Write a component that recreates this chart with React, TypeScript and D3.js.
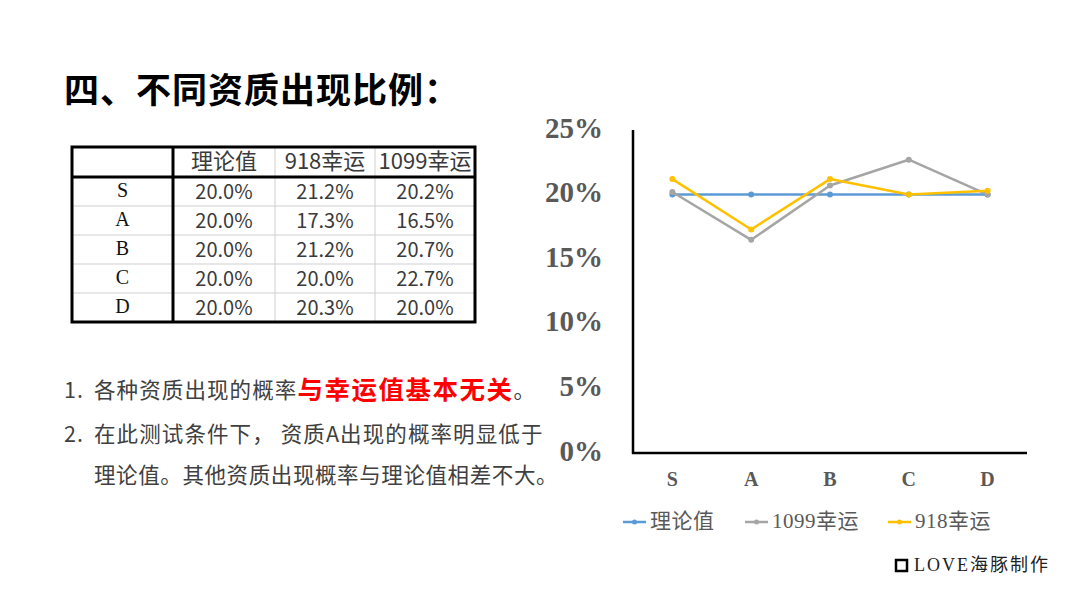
import * as d3 from "d3";

const categories = ["S", "A", "B", "C", "D"];
const theory = [20.0, 20.0, 20.0, 20.0, 20.0];
const lucky918 = [21.2, 17.3, 21.2, 20.0, 20.3];
const lucky1099 = [20.2, 16.5, 20.7, 22.7, 20.0];
const yTicks = [0, 5, 10, 15, 20, 25];
const tableHeaders = ["理论值", "918幸运", "1099幸运"];

const W = 1080;
const H = 608;
const SANS = "'Noto Sans CJK SC', 'Noto Sans', sans-serif";
const SERIF = "'Liberation Serif', 'DejaVu Serif', 'Noto Sans CJK SC', serif";

// chart frame
const AX_LEFT = 633;
const AX_RIGHT = 1027;
const AX_TOP = 130;
const AX_BOTTOM = 453;

const series = [
  { name: "理论值", values: theory, color: "#5B9BD5" },
  { name: "1099幸运", values: lucky1099, color: "#A5A5A5" },
  { name: "918幸运", values: lucky918, color: "#FFC000" },
];

// table frame
const colEdges = [72, 173, 275, 375, 475];
const HEAD_TOP = 147;
const HEAD_BOTTOM = 177;
const ROW_H = 29;

const pct = (v: number) => d3.format(".1f")(v) + "%";

function LineChart() {
  const x = d3.scalePoint<string>().domain(categories).range([AX_LEFT, AX_RIGHT]).padding(0.5);
  const y = d3.scaleLinear().domain([0, 25]).range([AX_BOTTOM, AX_TOP]);
  const line = d3
    .line<number>()
    .x((_, i) => x(categories[i]) ?? 0)
    .y((d) => y(d));

  const legendX = [623, 745, 888];

  return (
    <g>
      {yTicks.map((t) => (
        <text
          key={t}
          x={603}
          y={y(t) + 1}
          textAnchor="end"
          dominantBaseline="middle"
          fontFamily={SERIF}
          fontWeight={700}
          fontSize={29}
          fill="#595959"
        >
          {t}%
        </text>
      ))}
      {categories.map((c) => (
        <text
          key={c}
          x={x(c)}
          y={481}
          textAnchor="middle"
          dominantBaseline="middle"
          fontFamily={SERIF}
          fontWeight={700}
          fontSize={20}
          fill="#595959"
        >
          {c}
        </text>
      ))}
      <line x1={AX_LEFT} x2={AX_LEFT} y1={AX_TOP} y2={AX_BOTTOM + 1} stroke="#000" strokeWidth={2.5} />
      <line x1={AX_LEFT - 1} x2={AX_RIGHT} y1={AX_BOTTOM} y2={AX_BOTTOM} stroke="#000" strokeWidth={2.5} />

      {series.map((s) => (
        <g key={s.name}>
          <path d={line(s.values) ?? ""} fill="none" stroke={s.color} strokeWidth={2.5} strokeLinejoin="round" />
          {s.values.map((v, i) => (
            <circle key={i} cx={x(categories[i])} cy={y(v)} r={3} fill={s.color} />
          ))}
        </g>
      ))}

      {series.map((s, i) => (
        <g key={s.name} transform={`translate(${legendX[i]},522)`}>
          <line x1={0} x2={23} y1={0} y2={0} stroke={s.color} strokeWidth={2.5} />
          <circle cx={11.5} cy={0} r={2.5} fill={s.color} />
          <text
            x={27}
            y={1}
            dominantBaseline="middle"
            fontFamily={SERIF}
            fontSize={21}
            letterSpacing={0.5}
            fill="#595959"
          >
            {s.name}
          </text>
        </g>
      ))}
    </g>
  );
}

function DataTable() {
  const rows = categories.map((c, i) => [theory[i], lucky918[i], lucky1099[i]]);
  const rowY = (i: number) => HEAD_BOTTOM + i * ROW_H;
  const bottom = rowY(categories.length);
  const colMid = (j: number) => (colEdges[j] + colEdges[j + 1]) / 2;

  return (
    <g>
      {/* thin grid */}
      {categories.slice(1).map((_, i) => (
        <line key={i} x1={colEdges[0]} x2={colEdges[4]} y1={rowY(i + 1)} y2={rowY(i + 1)} stroke="#cfcfcf" strokeWidth={1} />
      ))}
      {[2, 3].map((j) => (
        <line key={j} x1={colEdges[j]} x2={colEdges[j]} y1={HEAD_TOP} y2={bottom} stroke="#cfcfcf" strokeWidth={1} />
      ))}
      {/* thick lines */}
      <rect
        x={colEdges[0]}
        y={HEAD_TOP}
        width={colEdges[4] - colEdges[0]}
        height={bottom - HEAD_TOP}
        fill="none"
        stroke="#000"
        strokeWidth={3}
      />
      <line x1={colEdges[0]} x2={colEdges[4]} y1={HEAD_BOTTOM} y2={HEAD_BOTTOM} stroke="#000" strokeWidth={3} />
      <line x1={colEdges[1]} x2={colEdges[1]} y1={HEAD_TOP} y2={bottom} stroke="#000" strokeWidth={3} />

      {tableHeaders.map((h, j) => (
        <text
          key={h}
          x={colMid(j + 1)}
          y={HEAD_TOP + 16}
          textAnchor="middle"
          dominantBaseline="middle"
          fontFamily={SANS}
          fontSize={22}
          fill="#3a3a3a"
        >
          {h}
        </text>
      ))}
      {rows.map((r, i) => (
        <g key={categories[i]}>
          <text
            x={colMid(0)}
            y={rowY(i) + ROW_H / 2 + 1}
            textAnchor="middle"
            dominantBaseline="middle"
            fontFamily={SERIF}
            fontSize={20}
            fill="#111"
          >
            {categories[i]}
          </text>
          {r.map((v, j) => (
            <text
              key={j}
              x={colMid(j + 1)}
              y={rowY(i) + ROW_H / 2 + 2}
              textAnchor="middle"
              dominantBaseline="middle"
              fontFamily={SANS}
              fontSize={20}
              fill="#3a3a3a"
            >
              {pct(v)}
            </text>
          ))}
        </g>
      ))}
    </g>
  );
}

export default function App() {
  return (
    <svg
      width={W}
      height={H}
      viewBox={`0 0 ${W} ${H}`}
      style={{ position: "absolute", left: 0, top: 0, display: "block", background: "#fff" }}
    >
      <rect width={W} height={H} fill="#fff" />
      <text
        x={64}
        y={93}
        dominantBaseline="middle"
        fontFamily={SANS}
        fontWeight={700}
        fontSize={35}
        letterSpacing={1}
        fill="#000"
      >
        四、不同资质出现比例：
      </text>

      <DataTable />

      <g fontFamily={SANS} fill="#404040" fontSize={21.5} letterSpacing={1.1}>
        <text x={64} y={392} dominantBaseline="middle">1.</text>
        <text x={94} y={392} dominantBaseline="middle">
          <tspan>各种资质出现的概率</tspan>
          <tspan fill="#FF0000" fontWeight={700} fontSize={25.5} letterSpacing={1.5}>与幸运值基本无关</tspan>
          <tspan>。</tspan>
        </text>
        <text x={64} y={436} dominantBaseline="middle">2.</text>
        <text x={94} y={436} dominantBaseline="middle">
          在此测试条件下，&#160;资质A出现的概率明显低于
        </text>
        <text x={94} y={477} dominantBaseline="middle" letterSpacing={0.6}>
          理论值。其他资质出现概率与理论值相差不大。
        </text>
      </g>

      <LineChart />

      <rect x={896} y={560} width={11} height={11} fill="none" stroke="#000" strokeWidth={2.5} />
      <text x={914} y={567} dominantBaseline="middle" fontFamily={SERIF} fontSize={18} fill="#222" letterSpacing={2}>
        LOVE海豚制作
      </text>
    </svg>
  );
}
